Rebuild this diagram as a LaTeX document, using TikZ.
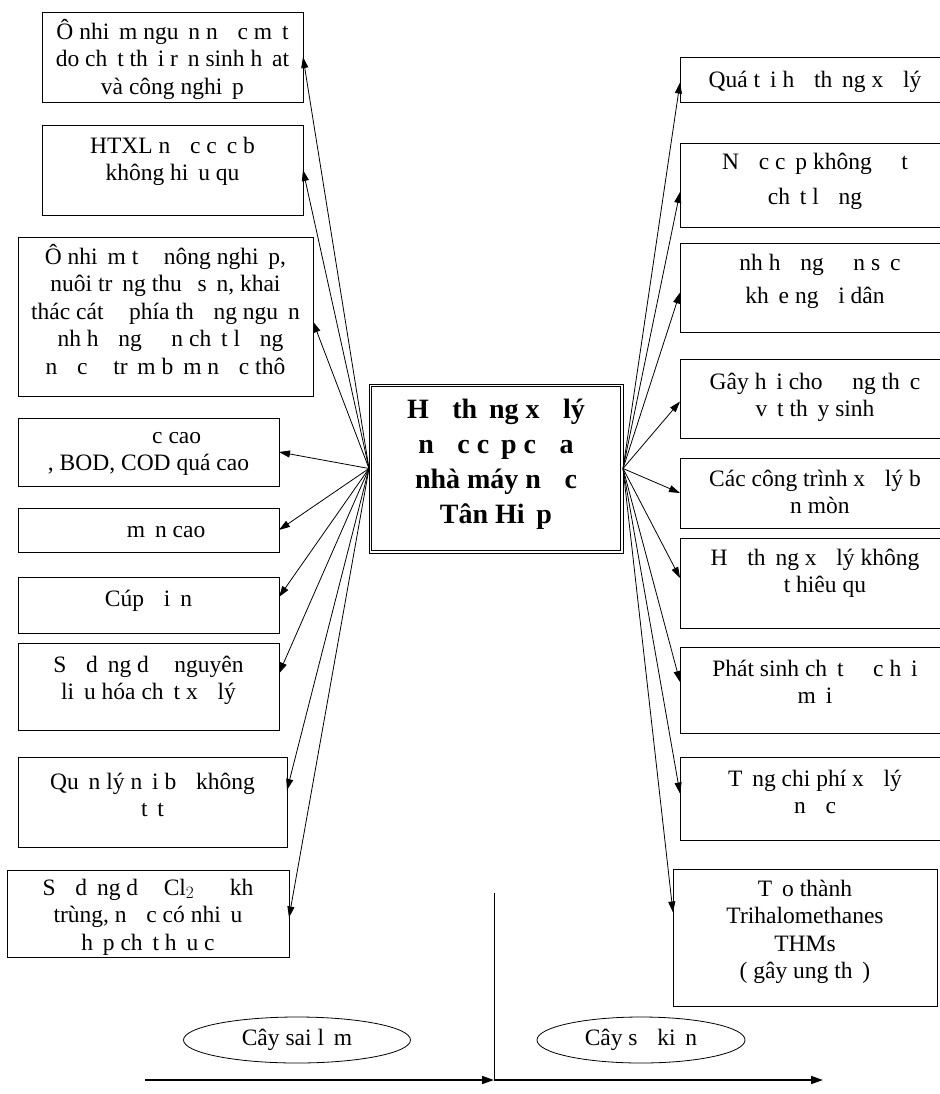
\documentclass[tikz,border=0pt]{standalone}
\usepackage{fontspec}
\setmainfont{Liberation Serif}
\usetikzlibrary{arrows.meta, shapes.geometric}
% gap left by a missing letter
\newcommand{\gp}{\hspace{0.42em}}
% top aligned text cell: width, height, top pad, text
\newcommand{\cell}[4]{\parbox[t][#2][t]{#1}{\centering\vspace*{#3}\strut #4}}

\begin{document}
\begin{tikzpicture}[x=1pt,y=-1pt]
  \tikzset{
    cause/.style={draw, line width=0.9pt, inner sep=0pt, outer sep=0pt, anchor=north west,
      font=\fontsize{23.5}{27.5}\selectfont},
    hub/.style={draw, line width=0.8pt, inner sep=0pt, outer sep=0pt, anchor=north west,
      font=\fontsize{28}{35}\selectfont\bfseries},
    tree/.style={draw, ellipse, line width=0.8pt, inner sep=0pt,
      font=\fontsize{23.5}{27.5}\selectfont},
    link/.style={-{Triangle[length=11pt,width=7pt]}, line width=0.8pt},
    axis/.style={-{Triangle[length=12pt,width=8pt]}, line width=1.6pt}
  }
  \useasboundingbox (0,0) rectangle (939,1094);

  % centre
  \node[hub] (plant) at (369,384) {\cell{254pt}{169pt}{10pt}{H\gp\gp th\gp ng x\gp\gp lý\\
    n\gp\gp c c\gp p c\gp\gp a\\nhà máy n\gp\gp c\\Tân Hi\gp p}};
  \draw[line width=0.8pt] ([shift={(2.5pt,-2.5pt)}]plant.north west)
    rectangle ([shift={(-2.5pt,2.5pt)}]plant.south east);

  % left: causes
  \node[cause] (l1) at (42,12) {\cell{261pt}{90pt}{7pt}{Ô nhi\gp m ngu\gp n n\gp\gp c m\gp t\\
    do ch\gp t th\gp i r\gp n sinh h\gp at\\và công nghi\gp p}};
  \node[cause] (l2) at (42,125) {\cell{261pt}{90pt}{9pt}{HTXL n\gp\gp c c\gp c b\gp\\
    không hi\gp u qu\gp}};
  \node[cause] (l3) at (18,237) {\cell{295pt}{159pt}{7pt}{Ô nhi\gp m t\gp\gp{} nông nghi\gp p,\\
    nuôi tr\gp ng thu\gp{} s\gp n, khai\\
    thác cát\gp\gp{} phía th\gp\gp ng ngu\gp n\\
    \gp nh h\gp\gp ng\gp\gp\gp n ch\gp t l\gp\gp ng\\
    n\gp\gp c\gp\gp{} tr\gp m b\gp m n\gp\gp c thô}};
  \node[cause] (l4) at (18,418) {\cell{261pt}{68pt}{6pt}{\hspace{2.4em}c cao\\, BOD, COD quá cao}};
  \node[cause] (l5) at (18,508) {\cell{261pt}{44pt}{10pt}{\hspace{1.5em}m\gp n cao}};
  \node[cause] (l6) at (18,577) {\cell{261pt}{56pt}{10pt}{Cúp\gp\gp i\gp n}};
  \node[cause] (l7) at (18,643) {\cell{261pt}{87pt}{10pt}{S\gp\gp d\gp ng d\gp\gp{} nguyên\\
    li\gp u hóa ch\gp t x\gp\gp lý}};
  \node[cause] (l8) at (18,757) {\cell{269pt}{90pt}{13pt}{Qu\gp n lý n\gp i b\gp\gp không\\t\gp t}};
  \node[cause] (l9) at (7,870) {\cell{282pt}{87pt}{6pt}{S\gp\gp d\gp ng d\gp\gp{} Cl$_2$\gp\gp\gp{} kh\gp\\
    trùng, n\gp\gp c có nhi\gp u\\h\gp p ch\gp t h\gp u c\gp}};

  % right: effects
  \node[cause] (r1) at (680,57) {\cell{270pt}{45pt}{11pt}{Quá t\gp i h\gp\gp th\gp ng x\gp\gp lý}};
  \node[cause] (r2) at (680,143) {\cell{270pt}{84pt}{7pt}{N\gp\gp c c\gp p không\gp\gp\gp t\\[8pt]
    ch\gp t l\gp\gp ng}};
  \node[cause] (r3) at (680,243) {\cell{270pt}{89pt}{8pt}{\gp nh h\gp\gp ng\gp\gp\gp n s\gp c\\[6pt]
    kh\gp e ng\gp\gp i dân}};
  \node[cause] (r4) at (680,359) {\cell{270pt}{79pt}{11pt}{Gây h\gp i cho\gp\gp\gp ng th\gp c\\
    v\gp t th\gp y sinh}};
  \node[cause] (r5) at (680,458) {\cell{270pt}{70pt}{9pt}{Các công trình x\gp\gp lý b\gp\\\gp n mòn}};
  \node[cause] (r6) at (680,538) {\cell{270pt}{90pt}{8pt}{H\gp\gp th\gp ng x\gp\gp lý không\\
    \gp\gp t hiêu qu\gp}};
  \node[cause] (r7) at (680,647) {\cell{270pt}{86pt}{10pt}{Phát sinh ch\gp t\gp\gp\gp c h\gp i\\m\gp i}};
  \node[cause] (r8) at (680,757) {\cell{270pt}{83pt}{10pt}{T\gp ng chi phí x\gp\gp lý\\n\gp\gp c}};
  \node[cause] (r9) at (673,869) {\cell{264pt}{137pt}{8pt}{T\gp o thành\\Trihalomethanes\\THMs\\
    ( gây ung th\gp )}};

  % arrows to causes
  \draw[link] (plant.west) -- (l1.east);
  \draw[link] (plant.west) -- (l2.east);
  \draw[link] (plant.west) -- ([yshift=-5pt]l3.east);
  \draw[link] (plant.west) -- (l4.east);
  \draw[link] (plant.west) -- (l5.east);
  \draw[link] (plant.west) -- ([yshift=8pt]l6.east);
  \draw[link] (plant.west) -- ([yshift=13pt]l7.east);
  \draw[link] (plant.west) -- ([yshift=12pt]l8.east);
  \draw[link] (plant.west) -- ([yshift=-4pt]l9.east);

  % arrows to effects
  \draw[link] (plant.east) -- ([yshift=-3pt]r1.west);
  \draw[link] (plant.east) -- ([yshift=-7pt]r2.west);
  \draw[link] (plant.east) -- ([yshift=-5pt]r3.west);
  \draw[link] (plant.east) -- ([yshift=-3pt]r4.west);
  \draw[link] (plant.east) -- (r5.west);
  \draw[link] (plant.east) -- ([yshift=5pt]r6.west);
  \draw[link] (plant.east) -- ([yshift=8pt]r7.west);
  \draw[link] (plant.east) -- ([yshift=5pt]r8.west);
  \draw[link] (plant.east) -- ([yshift=25pt]r9.west);

  % bottom legend
  \node[tree, minimum width=227pt, minimum height=46pt] (fault) at (297,1040) {Cây sai l\gp m};
  \node[tree, minimum width=208pt, minimum height=46pt] (event) at (641,1040) {Cây s\gp\gp ki\gp n};
  \coordinate (origin) at (494,1080);
  \coordinate (axtop) at (494,893);
  \coordinate (axleft) at (145,1080);
  \coordinate (axright) at (823,1080);
  \draw[line width=0.8pt] (axtop) -- (origin);
  \draw[axis] (axleft) -- (origin);
  \draw[axis] (origin) -- (axright);
\end{tikzpicture}
\end{document}
